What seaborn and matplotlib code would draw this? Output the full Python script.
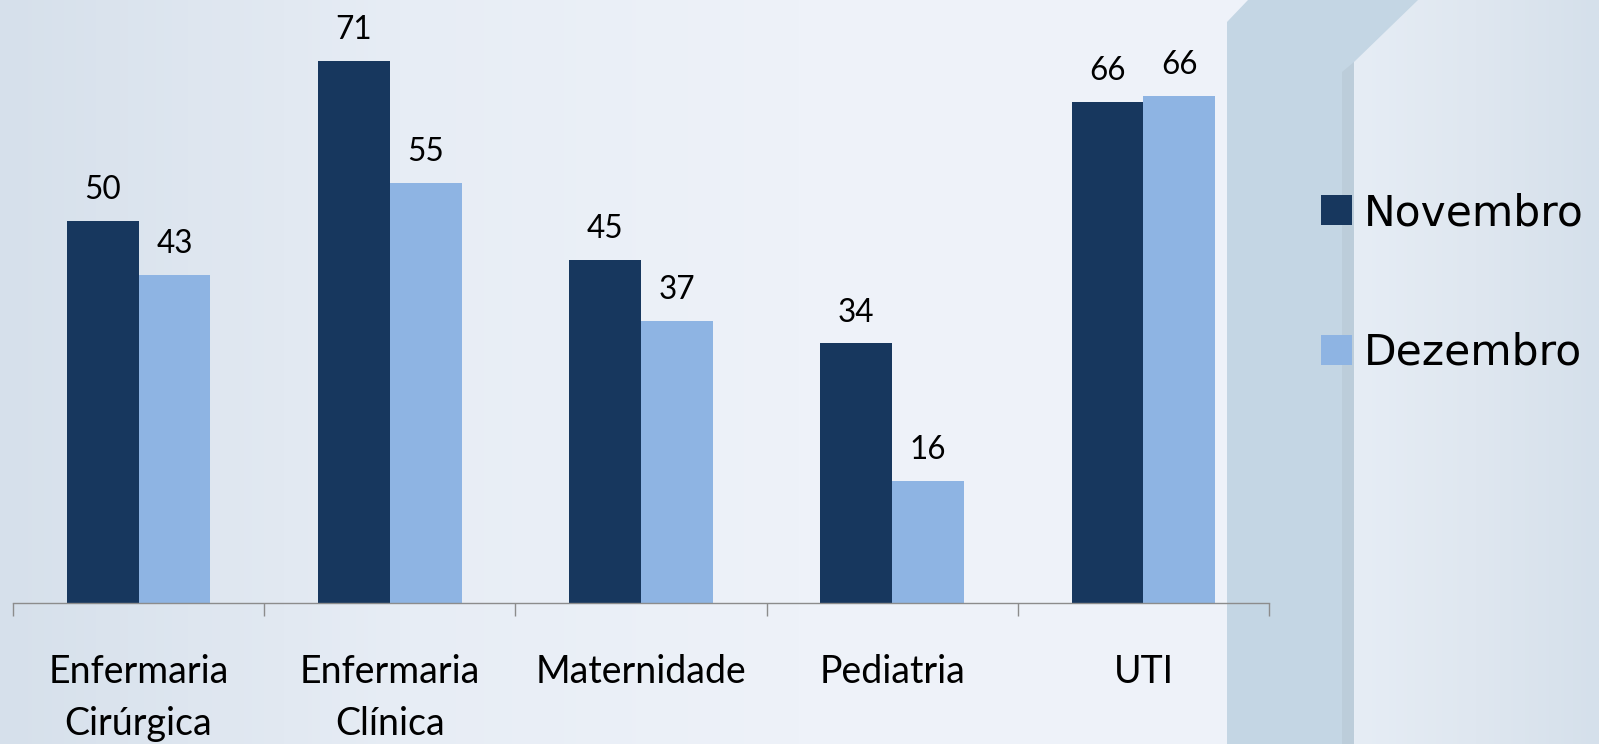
import numpy as np
import pandas as pd
import matplotlib
matplotlib.use("Agg")
import matplotlib.pyplot as plt
from matplotlib.patches import Polygon
from matplotlib.colors import LinearSegmentedColormap
import seaborn as sns

# ---- data ----
categories = ["Enfermaria\nCirúrgica", "Enfermaria\nClínica", "Maternidade", "Pediatria", "UTI"]
novembro = [50, 71, 45, 34, 65.6]
dezembro = [43, 55, 37, 16, 66.4]
series_names = ["Novembro", "Dezembro"]
colors = ["#17375E", "#8EB4E3"]

df = pd.DataFrame({
    "cat": categories * 2,
    "val": novembro + dezembro,
    "mes": [series_names[0]] * len(categories) + [series_names[1]] * len(categories),
})

sns.set_theme(style="white")
plt.rcParams["font.family"] = ["Lato", "DejaVu Sans"]
plt.rcParams["text.color"] = "black"

W, H = 1599, 744
fig = plt.figure(figsize=(W / 100, H / 100), dpi=100)

# ---- background ----
bg = fig.add_axes([0, 0, 1, 1], zorder=-5)
bg.set_xlim(0, W)
bg.set_ylim(H, 0)
bg.axis("off")
cmap = LinearSegmentedColormap.from_list(
    "bgc", [(0.0, "#d6e0eb"), (0.25, "#e7edf5"), (0.5, "#eef2f9"), (0.76, "#eef2f9"), (1.0, "#eef2f9")])
grad = np.tile(np.linspace(0, 1, 400), (10, 1))
bg.imshow(grad, cmap=cmap, extent=[0, W, H, 0], aspect="auto", zorder=0)
# right light panel
cmap2 = LinearSegmentedColormap.from_list("bgr", ["#e6edf5", "#dfe7f0", "#d5e0eb"])
bg.imshow(np.tile(np.linspace(0, 1, 200), (10, 1)), cmap=cmap2,
          extent=[1354, W, H, 0], aspect="auto", zorder=1)
# decorative band
bg.add_patch(Polygon([(1227, H), (1227, 22), (1248, 0), (1418, 0), (1354, 62), (1354, H)],
                     closed=True, facecolor="#c4d6e4", edgecolor="none", zorder=2))
bg.add_patch(Polygon([(1342, H), (1342, 72), (1354, 62), (1354, H)],
                     closed=True, facecolor="#bccdda", edgecolor="none", zorder=3))

# ---- main axes ----
left = 13 / W
right = 1269 / W
bottom = 1 - 603 / H
ax = fig.add_axes([left, bottom, right - left, 1 - bottom])
ax.patch.set_alpha(0)

sns.barplot(data=df, x="cat", y="val", hue="mes", palette=colors, saturation=1,
            width=0.571, ax=ax, edgecolor="none", linewidth=0)

ax.set_xlim(-0.5, len(categories) - 0.5)
ax.set_ylim(0, 79)
ax.set_xlabel("")
ax.set_ylabel("")
ax.set_yticks([])
for s in ["top", "right", "left"]:
    ax.spines[s].set_visible(False)
ax.spines["bottom"].set_color("#8c8c8c")
ax.spines["bottom"].set_linewidth(1.0)

ax.set_xticks(range(len(categories)))
ax.set_xticklabels(categories, fontsize=27, color="black", linespacing=1.55)
ax.set_xticks(np.arange(-0.5, len(categories)), minor=True)
ax.tick_params(axis="x", which="major", length=0, pad=37)
ax.tick_params(axis="x", which="minor", length=9.4, width=1.0, color="#8c8c8c", bottom=True)

for cont in ax.containers:
    ax.bar_label(cont, fmt="%.0f", padding=11.5, fontsize=22.7, color="black")

# legend
handles, labels = ax.get_legend_handles_labels()
leg = ax.legend(handles, labels, loc="upper left", bbox_to_anchor=(1321 / W, 1 - 192 / H),
                bbox_transform=fig.transFigure, frameon=False,
                prop={"family": "DejaVu Sans", "size": 30.5},
                handlelength=0.72, handleheight=0.72, handletextpad=0.3, labelspacing=2.3,
                borderpad=0, borderaxespad=0)
for t in leg.get_texts():
    t.set_color("black")

fig.savefig("out.png", dpi=100)
